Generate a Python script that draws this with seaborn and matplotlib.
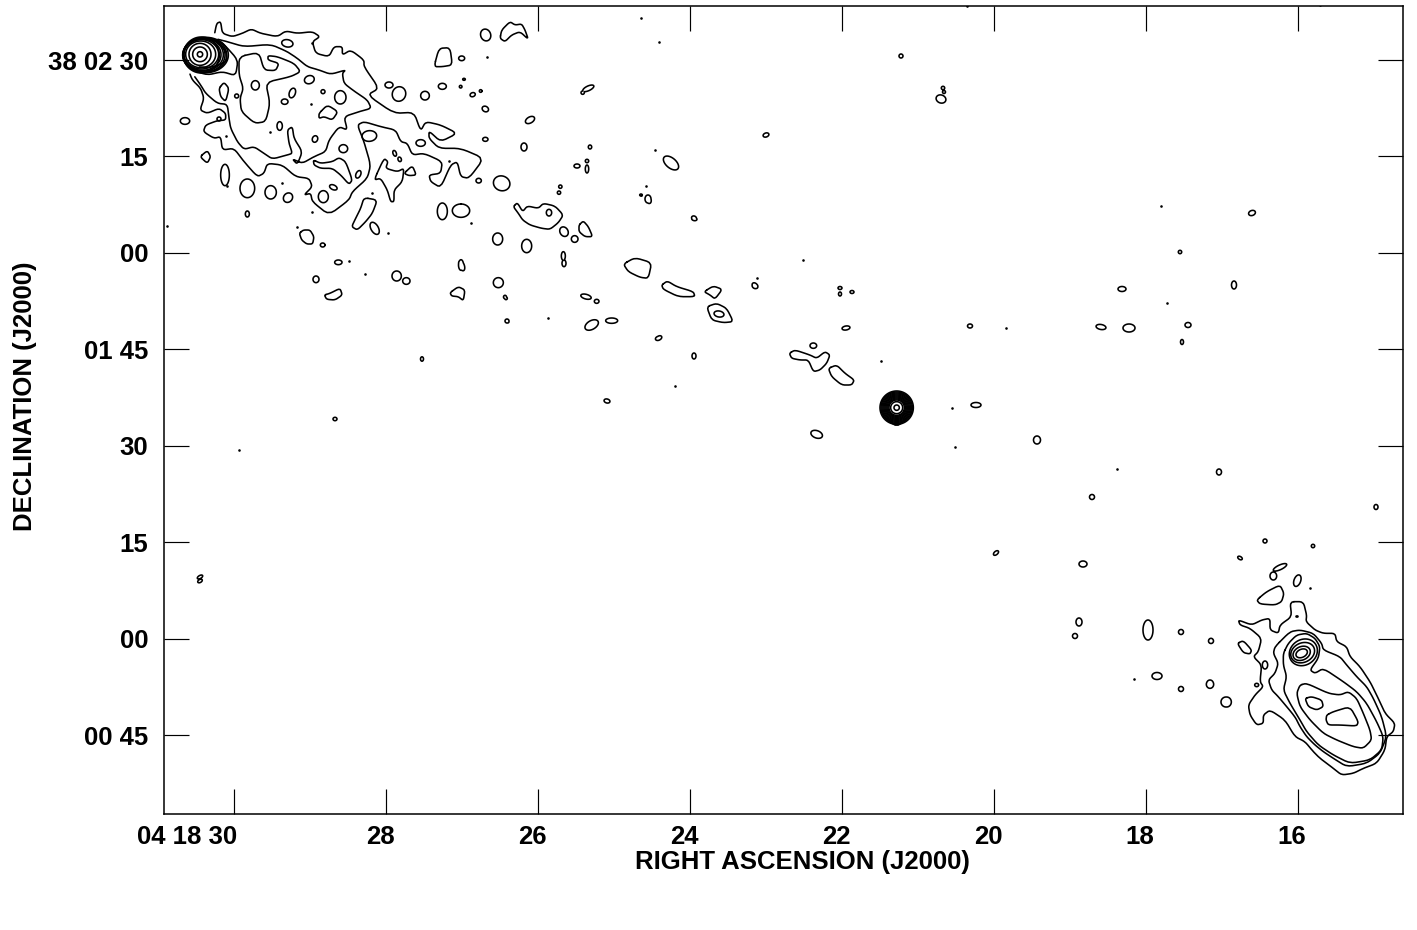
import numpy as np, pandas as pd
import matplotlib
matplotlib.use("Agg")
import matplotlib.pyplot as plt
from matplotlib.transforms import ScaledTranslation
import seaborn as sns

W, H = 1417, 930
# map WCS: reference map cell and cell size
CRPIX = (234.0, 60.0); CRVAL = (30.0, 150.0); CDELT = (-1 / 76.0, -15 / 96.43)
ra_ticks = [30, 28, 26, 24, 22, 20, 18, 16]
ra_labels = ["04 18 30", "28", "26", "24", "22", "20", "18", "16"]
dec_ticks = [150, 135, 120, 105, 90, 75, 60, 45]
dec_labels = ["38 02 30", "15", "00", "01 45", "30", "15", "00", "00 45"]

# map regions: origin cell and subdivisions per cell
NW = (164, 5, 3); SE = (1200, 550, 3); MID = (430, 170, 3); CEN = (770, 330, 3); TOP = (470, 10, 3); SW = (290, 220, 3)

nw_outer = [(75,200),(85,225),(110,250),(120,280),(108,315),(130,325),(165,310),(185,325),(185,345),(160,347),(125,360),(118,380),(150,400),(170,395),(175,435),(210,430),(240,470),(280,515),(300,505),(310,475),(355,480),(395,515),(435,520),(445,545),(420,570),(440,565),(445,590),(495,630),(555,585),(565,560),(610,520),(620,480),(600,410),(580,360),(600,350),(650,365),(695,375),(710,410),(730,415),(745,450),(780,445),(835,470),(830,505),(795,510),(800,530),(830,548),(860,480),(880,470),(890,515),(915,520),(960,460),(890,430),(825,430),(795,400),(795,378),(830,410),(880,385),(830,360),(785,350),(770,378),(750,322),(690,325),(610,270),(645,250),(600,185),(600,165),(560,135),(535,150),(535,125),(510,125),(495,155),(455,145),(445,110),(468,95),(445,80),(400,85),(365,78),(340,95),(290,85),(262,72),(235,85),(205,95),(175,85),(170,50),(158,55),(150,95)]
nw_second = [(85,205),(110,240),(125,265),(160,295),(190,298),(195,340),(200,370),(220,410),(240,433),(270,425),(300,445),(325,462),(370,450),(385,445),(375,415),(370,375),(385,365),(390,400),(415,440),(400,478),(385,462),(415,475),(450,455),(485,440),(495,405),(525,365),(550,375),(540,335),(585,320),(622,310),(610,285),(570,258),(540,235),(535,205),(545,195),(500,208),(465,195),(430,185),(400,160),(370,140),(320,118),(240,125),(190,110),(150,100)]
nw_third = [(225,155),(285,142),(300,195),(335,197),(345,175),(312,165),(312,152),(340,155),(390,175),(410,200),(380,215),(305,232),(318,295),(305,350),(272,355),(232,320),(228,280),(238,250),(225,210),(225,155)]
nw_jet1 = [(85,195),(130,210),(175,200),(215,212),(222,165),(180,118),(150,100)]
nw_jet2 = [(92,185),(140,188),(190,170),(185,135),(150,105)]
nw_hook = [(165,250),(180,232),(195,250),(185,290),(170,275),(165,250)]
nw_isle1 = [(448,465),(470,475),(505,470),(525,458),(545,470),(565,525),(555,538),(530,510),(505,490),(470,490),(450,480),(448,465)]
nw_isle2 = [(630,525),(660,460),(672,470),(665,490),(700,500),(720,490),(715,530),(690,555),(690,590),(680,590),(670,555),(650,520),(630,525)]
nw_isle3 = [(600,578),(640,585),(625,625),(605,650),(580,675),(563,665),(575,640),(590,610),(600,578)]
nw_isle4 = [(810,185),(825,130),(858,128),(865,180),(835,185),(810,185)]
nw_isle5 = [(465,325),(490,300),(522,320),(505,345),(480,335),(465,340),(465,325)]
nw_isle6 = [(108,455),(130,437),(140,455),(130,475),(108,455)]
nw_isle7 = [(720,505),(745,482),(757,510),(735,512),(720,505)]

top_isle1 = [(90,85),(95,60),(120,35),(135,45),(155,42),(165,60),(175,88),(150,65),(125,75),(105,95),(90,85)]
sw_isle1 = [(28,40),(40,30),(60,30),(72,50),(68,72),(50,72),(35,60),(28,40)]
sw_isle2 = [(103,225),(120,220),(150,205),(157,225),(135,240),(110,238),(103,225)]

mid_isle1 = [(250,110),(262,98),(278,125),(292,108),(325,115),(340,100),(375,108),(400,135),(385,158),(360,178),(335,175),(300,165),(278,150),(265,130),(250,110)]
mid_isle2 = [(580,282),(615,263),(665,278),(655,325),(630,322),(595,305),(580,282)]
mid_isle3 = [(695,345),(712,333),(740,350),(790,365),(795,380),(745,380),(700,358),(695,345)]
mid_isle4 = [(822,365),(850,348),(877,358),(855,387),(840,375),(822,365)]
mid_isle5 = [(830,410),(860,400),(890,415),(910,455),(880,458),(845,450),(830,410)]
mid_isle6 = [(60,368),(85,350),(105,360),(100,392),(85,380),(65,378),(60,368)]
mid_isle7 = [(447,165),(460,153),(475,170),(488,200),(465,200),(447,185),(447,165)]
cen_isle1 = [(58,70),(75,60),(120,75),(140,85),(165,65),(180,75),(170,100),(150,120),(130,125),(115,90),(90,90),(65,85),(58,70)]
cen_isle2 = [(175,115),(200,105),(225,130),(253,150),(245,165),(215,165),(185,140),(175,115)]
cen_tip = [(340,255),(380,292),(420,255)]

se_outer = [(270,155),(310,155),(320,195),(318,215),(345,240),(370,250),(405,250),(410,275),(440,290),(450,320),(480,350),(510,395),(530,435),(555,490),(585,520),(580,545),(560,560),(555,600),(530,640),(490,655),(460,670),(425,675),(400,655),(360,625),(340,605),(315,575),(285,560),(255,510),(210,480),(190,495),(190,520),(170,525),(150,495),(145,465),(165,435),(190,410),(180,395),(185,345),(160,320),(175,305),(185,265),(150,235),(120,225),(115,210),(155,225),(185,210),(210,205),(210,240),(235,250),(240,225),(275,200),(270,155)]
se_second = [(225,290),(270,245),(300,240),(340,250),(365,280),(370,300),(420,320),(440,345),(470,380),(500,410),(520,445),(545,500),(560,560),(540,610),(500,640),(440,650),(400,625),(370,605),(345,585),(320,560),(300,530),(285,500),(235,440),(215,420),(205,390),(225,370),(235,340),(220,310),(225,290)]
se_third = [(250,310),(265,280),(290,255),(320,250),(345,265),(360,290),(355,325),(330,360),(345,370),(370,355),(430,395),(470,425),(500,460),(530,515),(550,560),(545,600),(510,630),(450,640),(400,615),(355,585),(320,545),(300,510),(270,460),(250,420),(260,380),(250,345),(250,310)]
se_fourth = [(300,405),(320,400),(385,430),(420,435),(445,425),(470,445),(490,490),(510,540),(515,570),(490,595),(460,590),(410,570),(370,550),(330,510),(300,470),(290,430),(300,405)]
se_peak1 = [(315,445),(335,440),(365,450),(370,470),(350,480),(325,470),(315,445)]
se_peak2 = [(380,495),(400,485),(450,470),(475,515),(470,528),(420,525),(385,525),(378,510),(380,495)]
se_isle1 = [(170,150),(200,125),(240,105),(252,130),(245,155),(225,165),(180,162),(170,150)]
se_isle2 = [(112,280),(130,272),(155,300),(150,312),(130,308),(112,280)]

outlines = [(NW, p) for p in (nw_outer, nw_second, nw_third, nw_jet1, nw_jet2, nw_hook, nw_isle1, nw_isle2, nw_isle3, nw_isle4, nw_isle5, nw_isle6, nw_isle7)]
outlines += [(TOP, top_isle1), (SW, sw_isle1), (SW, sw_isle2)]
outlines += [(MID, p) for p in (mid_isle1, mid_isle2, mid_isle3, mid_isle4, mid_isle5, mid_isle6, mid_isle7)]
outlines += [(CEN, p) for p in (cen_isle1, cen_isle2, cen_tip)]
outlines += [(SE, p) for p in (se_outer, se_second, se_third, se_fourth, se_peak1, se_peak2, se_isle1, se_isle2)]

# compact sources: centre x, centre y, semi-major, semi-minor, tilt (deg)
nw_blobs = [(63,348,14,10,0),(183,510,13,32,0),(250,550,22,28,0),(320,562,17,20,0),(372,578,13,15,40),(478,575,15,18,0),(250,627,6,9,0),(370,115,17,11,10),(436,224,15,12,-20),(274,241,12,14,0),(218,273,6,6,0),(385,264,9,15,20),(362,290,10,8,0),(477,260,6,6,0),(529,277,17,20,0),(347,363,8,13,0),(453,402,8,10,20),(538,431,13,12,0),(616,393,22,16,-5),(770,414,14,10,0),(692,445,5,9,-20),(707,463,5,7,-20),(583,508,7,12,25),(508,547,12,7,25),(632,670,11,20,-30),(675,240,12,9,0),(705,267,20,22,20),(783,272,13,13,0),(835,244,12,9,0),(893,160,9,7,0),(926,269,8,6,-20),(950,258,4,4,0),(964,312,10,8,30),(964,403,8,6,0),(900,223,4,3,0),(890,245,4,4,0),(165,342,6,6,0)]
mid_blobs = [(146,32,8,7,0),(215,40,25,22,20),(37,124,15,25,0),(93,122,26,20,0),(391,50,5,5,0),(387,68,5,5,0),(203,207,15,18,0),(290,228,15,20,0),(95,287,8,16,-20),(205,338,15,15,0),(228,385,4,4,0),(233,455,4,4,0),(402,185,12,15,-30),(434,207,10,10,0),(357,128,8,10,0),(400,258,6,13,0),(402,280,6,10,0),(468,380,16,7,15),(500,394,7,6,0),(485,465,22,13,-30),(545,452,18,8,0),(867,432,15,9,10),(975,347,10,7,45),(685,505,9,6,-20),(793,147,8,5,10),(655,88,8,13,-20),(633,75,4,3,0)]
cen_blobs = [(130,47,10,8,0),(140,313,18,11,20)]
se_blobs = [(292,92,18,10,-70),(240,52,22,7,-25),(220,78,10,12,0),(120,25,6,3,40),(33,272,7,7,0),(30,403,11,12,0),(80,456,14,15,0),(170,405,6,5,0),(195,345,8,12,0)]
top_blobs = [(47,75,15,18,-20),(355,235,18,7,-25),(338,248,5,5,0)]
sw_blobs = [(98,75,7,6,0),(145,127,11,7,0),(320,168,14,15,0),(349,183,11,10,0),(78,178,9,10,0)]
map_blobs = [(530,120,5,3,-30),(590,147,1.7,2,0),(524,147,3,4,0),(577,166,3,2,0),(587,169,1.7,4,0),(587,161,1.7,1.7,0),(671,163,9,5,40),(648,199,3,4,0),(694,218,2.5,2,20),(766,135,3,2,-20),(901,56,2,2,0),(941,99,5,4,20),(943,88,1.7,1.7,0),(944,92,1.5,1.5,0),(607,401,3,2,15),(659,338,3,2,-30),(694,356,2,3,0),(422,359,1.5,2.2,0),(335,419,2,1.7,0),(200,577,3,1.5,-30),(200,581,2.5,1.5,-30),(755,286,3,2.5,30),(840,288,2,1.5,0),(840,294,1.5,2,0),(852,292,2,1.5,0),(846,328,4,2,-10),(970,326,2.5,2,0),(976,405,5,2.5,0),(1037,440,3.5,4,0),(1101,327,5,2.5,10),(1129,328,6,4,0),(1188,325,3,2.5,0),(1182,342,1.5,2.5,0),(1122,289,4,2.5,0),(1234,285,2.5,4,0),(1180,252,1.7,1.7,0),(1252,213,3.5,2.5,-20),(1092,497,2.5,2.5,0),(1219,472,2.5,3,0),(1376,507,2,2.5,0),(1265,541,2,2,0),(1240,558,2.5,1.5,30),(1313,546,1.7,1.7,0),(996,553,3,1.7,-40),(1083,564,4,3,0),(1079,622,3,4,0),(1075,636,2.5,2.5,0),(1148,630,5,10,0),(1181,632,2.5,2.5,0),(1211,641,2.5,2.5,0),(1157,676,5,3.5,0),(1181,689,2.5,2.5,0),(1210,684,3.5,4,0),(1226,702,5,5,0),(339,262,3,1.5,0),(461,265,2.5,5.3,0),(507,321,2,2,0),(505,297,1.5,1.7,0)]
dot_x = [270,311,226,282,312,372,227,167,297,471,449,388,487,312,641,659,967,1320,655,646,641,803,757,881,1006,952,955,1167,1161,1117,1134,1310,675,239,548,349,365,1297,1296]
dot_y = [132,104,136,183,212,193,186,226,227,223,161,233,57,43,18,42,6,5,150,186,195,260,278,361,328,408,447,303,206,469,679,588,386,450,318,261,274,616,616]

# concentric core contours: x, y, semi-major, semi-minor, tilt
nw_core = [(108,148,r,r,0) for r in (8,22,33)] + [(110,148,45,40,0),(112,148,52,44,0),(115,149,56,47,0),(118,149,60,49,0),(120,150,63,51,0),(122,150,66,52,0),(125,150,68,53,0),(112,150,54,54,0)]
cen_core = [(380,233,r,r,0) for r in (8,18,23,26,29,32,35,38,41,44,47,50)]
se_core = [(305,310,18,12,-25),(305,310,27,20,-25),(308,308,37,29,-25),(310,307,44,38,-35)]

def sky(px, py):
    return CRVAL[0] + (np.asarray(px, float) - CRPIX[0]) * CDELT[0], CRVAL[1] + (np.asarray(py, float) - CRPIX[1]) * CDELT[1]

def chaikin(p):
    p = np.asarray(p, float)
    for _ in range(2):
        q = np.empty((2 * len(p) - 2, 2))
        q[0::2] = 0.82 * p[:-1] + 0.18 * p[1:]
        q[1::2] = 0.18 * p[:-1] + 0.82 * p[1:]
        if np.allclose(p[0], p[-1]):
            q = np.vstack([q, q[0]])
        p = q
    return p

sns.set_theme(style="ticks", rc={"axes.edgecolor": "black", "xtick.color": "black", "ytick.color": "black"})
plt.rcParams["font.family"] = ["Liberation Sans", "DejaVu Sans"]
fig = plt.figure(figsize=(W / 100, H / 100), dpi=100, facecolor="white")
L, R, T, B = 163.5, 1403.0, 5.5, 813.5
ax = fig.add_axes([L / W, 1 - B / H, (R - L) / W, (B - T) / H])
LW = 1.15

# traced contour lines
rows = []
for k, ((x0, y0, s), pts) in enumerate(outlines):
    c = chaikin(pts)
    ra, dec = sky(x0 + c[:, 0] / s, y0 + c[:, 1] / s)
    rows.append(pd.DataFrame({"ra": ra, "dec": dec, "contour": k}))
lines = pd.concat(rows, ignore_index=True)
sns.lineplot(data=lines, x="ra", y="dec", units="contour", estimator=None, sort=False,
             color="black", lw=LW, legend=False, ax=ax)

# compact Gaussian components, one brightness field, lowest contour level
gx = np.arange(160, 1408, 0.5); gy = np.arange(0, 820, 0.5)
field = np.zeros((gy.size, gx.size))
def add(field, x, y, a, b, t):
    rad = np.deg2rad(t); m = 3 * max(a, b) + 2
    i0, i1 = np.searchsorted(gx, [x - m, x + m]); j0, j1 = np.searchsorted(gy, [y - m, y + m])
    X, Y = np.meshgrid(gx[i0:i1], gy[j0:j1])
    u = (X - x) * np.cos(rad) + (Y - y) * np.sin(rad); v = -(X - x) * np.sin(rad) + (Y - y) * np.cos(rad)
    field[j0:j1, i0:i1] = np.maximum(field[j0:j1, i0:i1], np.exp(-0.5 * ((u / a) ** 2 + (v / b) ** 2)))
for (x0, y0, s), group in ((NW, nw_blobs), (MID, mid_blobs), (CEN, cen_blobs), (SE, se_blobs), (TOP, top_blobs), (SW, sw_blobs), ((0, 0, 1), map_blobs)):
    for x, y, a, b, t in group:
        add(field, x0 + x / s, y0 + y / s, a / s, b / s, t)
SX, SY = sky(gx, gy)
ax.contour(SX, SY, field, levels=[np.exp(-0.5)], colors="black", linewidths=LW)

# core contours
for (x0, y0, s), group in ((NW, nw_core), (CEN, cen_core), (SE, se_core)):
    for x, y, a, b, t in group:
        f = np.zeros_like(field)
        m = 3 * max(a, b) / s + 2
        add(f, x0 + x / s, y0 + y / s, a / s, b / s, t)
        i0, i1 = np.searchsorted(gx, [x0 + x / s - m, x0 + x / s + m]); j0, j1 = np.searchsorted(gy, [y0 + y / s - m, y0 + y / s + m])
        ax.contour(SX[i0:i1], SY[j0:j1], f[j0:j1, i0:i1], levels=[np.exp(-0.5)], colors="black", linewidths=LW)

# unresolved specks
dx, dy = sky(dot_x, dot_y)
sns.scatterplot(x=dx, y=dy, s=3.5, color="black", linewidth=0, legend=False, ax=ax)

xa, _ = sky([L, R], [0, 0]); _, ya = sky([0, 0], [B, T])
ax.set_xlim(*xa); ax.set_ylim(*ya)
ax.set_xticks(ra_ticks); ax.set_xticklabels(ra_labels)
ax.set_yticks(dec_ticks); ax.set_yticklabels(dec_labels)
ax.tick_params(which="both", direction="in", length=18, width=0.85, top=True, right=True, colors="black")
ax.tick_params(axis="x", pad=8); ax.tick_params(axis="y", pad=11)
for sp in ax.spines.values():
    sp.set_linewidth(1.1); sp.set_color("black"); sp.set_visible(True)
FS = 18.5
for lab in ax.get_xticklabels() + ax.get_yticklabels():
    lab.set_fontsize(FS); lab.set_fontweight("bold"); lab.set_color("black")
for i, lab in enumerate(ax.get_xticklabels()):
    if i == 0:
        lab.set_ha("right"); shift = 3
    else:
        shift = -6
    lab.set_transform(lab.get_transform() + ScaledTranslation(shift / 100, 0, fig.dpi_scale_trans))
ax.set_xlabel("RIGHT ASCENSION (J2000)", fontsize=FS, fontweight="bold", color="black")
ax.set_ylabel("DECLINATION (J2000)", fontsize=FS, fontweight="bold", color="black")
ax.xaxis.set_label_coords((802.5 - L) / (R - L), 1 - (862 - T) / (B - T), transform=ax.transAxes)
ax.xaxis.label.set_va("center")
ax.yaxis.set_label_coords((25 - L) / (R - L), 1 - (396 - T) / (B - T), transform=ax.transAxes)
ax.yaxis.label.set_va("center")
fig.savefig("out.png", dpi=100, facecolor="white")
